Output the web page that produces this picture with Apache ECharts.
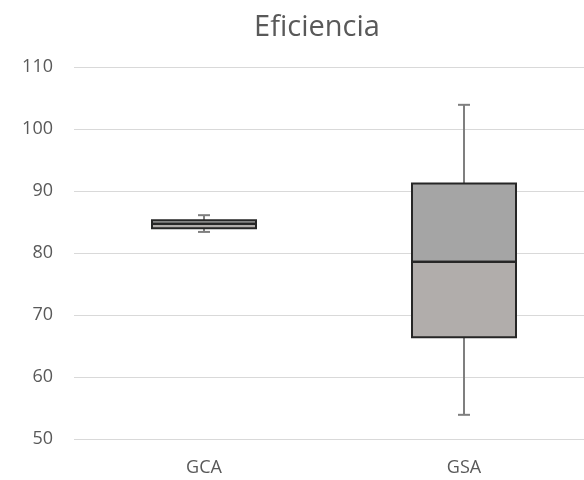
<!DOCTYPE html>
<html><head><meta charset="utf-8">
<script src="https://cdn.jsdelivr.net/npm/echarts@6/dist/echarts.min.js"></script>
<style>html,body{margin:0;padding:0;background:#fff}#c{width:584px;height:480px}</style>
</head><body><div id="c"></div>
<script>
var categories = ['GCA', 'GSA'];
var minVals = [83.4, 53.9];
var q1Vals = [84.0, 66.4];
var medianVals = [84.7, 78.6];
var q3Vals = [85.3, 91.2];
var maxVals = [86.1, 103.9];
var yTicks = [50, 60, 70, 80, 90, 100, 110];

var chart = echarts.init(document.getElementById('c'));
var data = categories.map(function (c, i) {
  return [i, minVals[i], q1Vals[i], medianVals[i], q3Vals[i], maxVals[i]];
});
function renderItem(params, api) {
  var x = api.value(0);
  var pMin = api.coord([x, api.value(1)]);
  var pQ1 = api.coord([x, api.value(2)]);
  var pMed = api.coord([x, api.value(3)]);
  var pQ3 = api.coord([x, api.value(4)]);
  var pMax = api.coord([x, api.value(5)]);
  var bw = api.size([1, 0])[0] * 0.4;
  var cx = pMed[0];
  var capW = 6;
  var wStyle = { stroke: '#7f7f7f', lineWidth: 2 };
  var boxStroke = '#262626';
  return {
    type: 'group',
    children: [
      { type: 'line', shape: { x1: cx, y1: pQ3[1], x2: cx, y2: pMax[1] }, style: wStyle },
      { type: 'line', shape: { x1: cx, y1: pQ1[1], x2: cx, y2: pMin[1] }, style: wStyle },
      { type: 'line', shape: { x1: cx - capW, y1: pMax[1], x2: cx + capW, y2: pMax[1] }, style: wStyle },
      { type: 'line', shape: { x1: cx - capW, y1: pMin[1], x2: cx + capW, y2: pMin[1] }, style: wStyle },
      { type: 'rect', shape: { x: cx - bw / 2, y: pMed[1], width: bw, height: pQ1[1] - pMed[1] },
        style: { fill: '#b1adab', stroke: boxStroke, lineWidth: 2 } },
      { type: 'rect', shape: { x: cx - bw / 2, y: pQ3[1], width: bw, height: pMed[1] - pQ3[1] },
        style: { fill: '#a5a5a5', stroke: boxStroke, lineWidth: 2 } },
      { type: 'line', shape: { x1: cx - bw / 2, y1: pMed[1], x2: cx + bw / 2, y2: pMed[1] },
        style: { stroke: boxStroke, lineWidth: 2 } }
    ]
  };
}
chart.setOption({
  animation: false,
  title: {
    text: 'Eficiencia', left: 312, top: 8, textAlign: 'center',
    textStyle: { fontFamily: 'Open Sans', fontSize: 29, fontWeight: 'normal', color: '#595959' }
  },
  grid: { left: 74, width: 520, top: 67, height: 372, outerBoundsMode: 'none', containLabel: false },
  xAxis: {
    type: 'category', data: categories,
    axisLine: { show: false }, axisTick: { show: false },
    axisLabel: { color: '#595959', fontSize: 18, fontFamily: 'Open Sans', margin: 20 }
  },
  yAxis: {
    type: 'value', min: yTicks[0], max: yTicks[yTicks.length - 1], interval: 10,
    axisLine: { show: false }, axisTick: { show: false },
    axisLabel: { color: '#595959', fontSize: 18, fontFamily: 'Open Sans', margin: 21 },
    splitLine: { lineStyle: { color: '#d9d9d9', width: 1 } }
  },
  series: [{
    type: 'custom', renderItem: renderItem, data: data,
    encode: { x: 0, y: [1, 2, 3, 4, 5] }
  }]
});
</script></body></html>
